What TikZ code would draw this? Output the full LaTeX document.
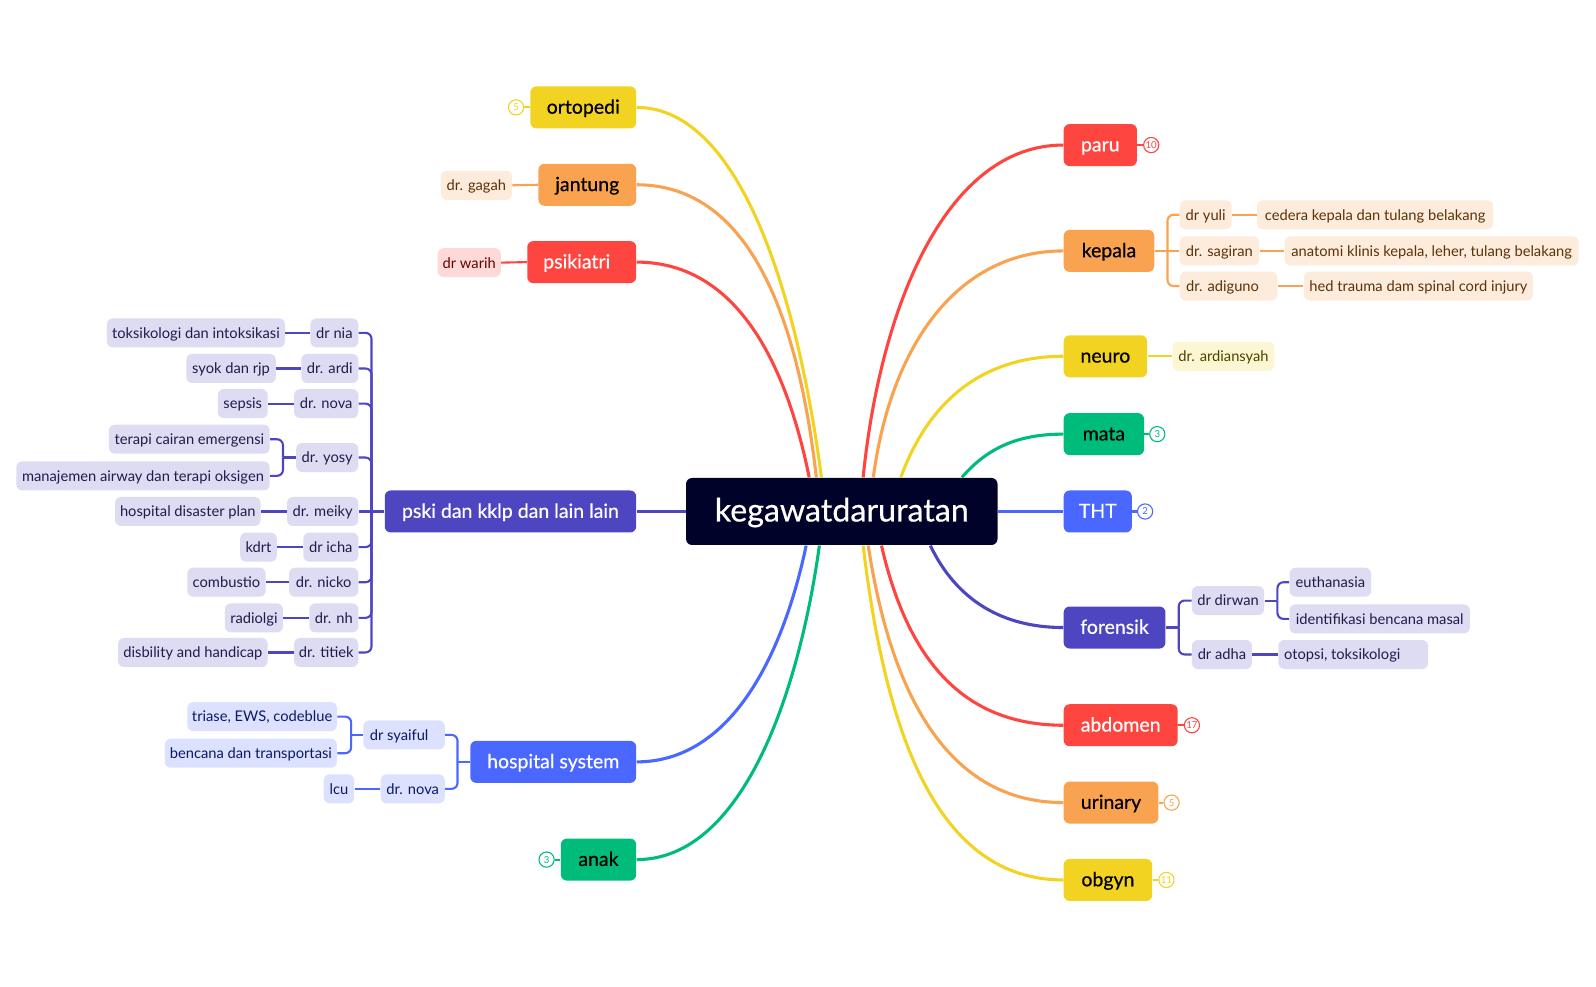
\documentclass[tikz,border=0pt]{standalone}
\usepackage{fontspec}
\setmainfont{Lato}
\newfontfamily\medfont[FakeBold=0.5]{Lato}
\definecolor{cRed}{HTML}{FF4540}
\definecolor{cOra}{HTML}{F9A24F}
\definecolor{cYel}{HTML}{F3D321}
\definecolor{cGre}{HTML}{00BC7B}
\definecolor{cBlu}{HTML}{4A67FF}
\definecolor{cInd}{HTML}{4E46C0}
\definecolor{cRoot}{HTML}{000229}
\definecolor{pRed}{HTML}{FFD9D8}
\definecolor{pOra}{HTML}{FDEBDC}
\definecolor{pYel}{HTML}{FCF6D2}
\definecolor{pBlu}{HTML}{DBE1FF}
\definecolor{pInd}{HTML}{DEDCF3}
\definecolor{tRed}{HTML}{660300}
\definecolor{tOra}{HTML}{5C3209}
\definecolor{tYel}{HTML}{4D4200}
\definecolor{tBlu}{HTML}{0A1A66}
\definecolor{tInd}{HTML}{1F1C4C}
\tikzset{
 box/.style={inner sep=0pt,rounded corners=3pt,align=center},
 rootbox/.style={box,fill=cRoot,text=white,minimum height=33.5pt,font=\medfont\fontsize{16.1}{18}\selectfont,text height=12pt,text depth=2pt},
 branch/.style={box,minimum height=21pt,font=\medfont\fontsize{9.75}{11}\selectfont,text height=8pt,text depth=1.7pt},
 leaf/.style={box,minimum height=14.5pt,font=\fontsize{7.35}{9}\selectfont,text height=6.2pt,text depth=.8pt},
 lRed/.style={leaf,fill=pRed,text=tRed},
 lOra/.style={leaf,fill=pOra,text=tOra},
 lYel/.style={leaf,fill=pYel,text=tYel},
 lBlu/.style={leaf,fill=pBlu,text=tBlu},
 lInd/.style={leaf,fill=pInd,text=tInd},
 badge/.style={circle,draw=#1,fill=white,text=#1,line width=.55pt,inner sep=0pt,minimum size=7.6pt,font=\fontsize{4.8}{5}\selectfont},
 curve/.style={draw=#1,line width=1.55pt},
 wire/.style={draw=#1,line width=1.05pt,rounded corners=3pt},
}
\newcommand\bx[6]{% style, name, xl, xr, yc, text
 \pgfmathsetmacro\cxx{(#3+#4)/2}\pgfmathsetmacro\www{(#4-#3)*0.509}
 \node[#1,minimum width=\www pt] (#2) at (\cxx,#5) {#6};}
\begin{document}
\begin{tikzpicture}[x=0.509pt,y=-0.509pt]
\useasboundingbox (0,0) rectangle (1568,969.6);
\fill[white] (0,0) rectangle (1568,969.6);
% root
\bx{rootbox}{root}{674}{980}{502.5}{kegawatdaruratan}
% branches right
\bx{branch,fill=cRed,text=white}{paru}{1045}{1117}{142.5}{paru}
\bx{branch,fill=cOra,text=black}{kepala}{1045}{1134}{246.5}{kepala}
\bx{branch,fill=cYel,text=black}{neuro}{1045}{1127}{350}{neuro}
\bx{branch,fill=cGre,text=black}{mata}{1045}{1124}{426.5}{mata}
\bx{branch,fill=cBlu,text=white}{tht}{1045}{1112}{502.5}{THT}
\bx{branch,fill=cInd,text=white}{forensik}{1045}{1145}{616.5}{forensik}
\bx{branch,fill=cRed,text=white}{abdomen}{1045}{1157}{712.5}{abdomen}
\bx{branch,fill=cOra,text=black}{urinary}{1045}{1138}{788.5}{urinary}
\bx{branch,fill=cYel,text=black}{obgyn}{1045}{1132}{864.5}{obgyn}
% branches left
\bx{branch,fill=cYel,text=black}{ortopedi}{521}{625}{105.5}{ortopedi}
\bx{branch,fill=cOra,text=black}{jantung}{529}{625}{181.5}{jantung}
\bx{branch,fill=cRed,text=white}{psikiatri}{518}{625}{257.5}{psikiatri\hspace{5pt}}
\bx{branch,fill=cInd,text=white}{pski}{378}{625}{502.5}{pski dan kklp dan lain lain}
\bx{branch,fill=cBlu,text=white}{hospital}{462}{625}{748.5}{hospital system}
\bx{branch,fill=cGre,text=black}{anak}{551}{625}{844.5}{anak}
% start points on the root
\coordinate (sParu) at (848,469); \coordinate (sKep) at (858,469);
\coordinate (sNeu) at (885,469); \coordinate (sMat) at (945,469);
\coordinate (sFor) at (914,536); \coordinate (sAbd) at (866,536);
\coordinate (sUri) at (853,536); \coordinate (sObg) at (848,536);
\coordinate (sOrt) at (807,469); \coordinate (sJan) at (802,469);
\coordinate (sPsi) at (795,469); \coordinate (sHos) at (792,536);
\coordinate (sAna) at (805,536);
\path[curve=cRed] (sParu) .. controls (865,300) and (930,142.5) .. (paru.west);
\path[curve=cOra] (sKep) .. controls (875,340) and (940,246.5) .. (kepala.west);
\path[curve=cYel] (sNeu) .. controls (910,400) and (960,350) .. (neuro.west);
\path[curve=cGre] (sMat) .. controls (970,440) and (1000,426.5) .. (mata.west);
\path[curve=cBlu] (root.east) -- (tht.west);
\path[curve=cInd] (sFor) .. controls (940,590) and (985,616.5) .. (forensik.west);
\path[curve=cYel] (sObg) .. controls (870,720) and (920,864.5) .. (obgyn.west);
\path[curve=cOra] (sUri) .. controls (875,680) and (930,788.5) .. (urinary.west);
\path[curve=cRed] (sAbd) .. controls (890,640) and (940,712.5) .. (abdomen.west);
\path[curve=cYel] (sOrt) .. controls (785,300) and (730,105.5) .. (ortopedi.east);
\path[curve=cOra] (sJan) .. controls (785,320) and (740,181.5) .. (jantung.east);
\path[curve=cRed] (sPsi) .. controls (775,370) and (730,257.5) .. (psikiatri.east);
\path[curve=cInd] (root.west) -- (pski.east);
\path[curve=cBlu] (sHos) .. controls (770,640) and (720,748.5) .. (hospital.east);
\path[curve=cGre] (sAna) .. controls (785,680) and (730,844.5) .. (anak.east);
% badges
\node[badge=cYel] (bOrt) at (507,105.5) {5};
\node[badge=cGre] (bAna) at (537,844.5) {3};
\node[badge=cRed] (bPar) at (1131,142.5) {10};
\node[badge=cGre] (bMat) at (1137,426.5) {3};
\node[badge=cBlu] (bTht) at (1125,502.5) {2};
\node[badge=cRed] (bAbd) at (1171,712.5) {17};
\node[badge=cOra] (bUri) at (1151,788.5) {5};
\node[badge=cYel] (bObg) at (1146,864.5) {11};
\path[wire=cYel] (ortopedi.west) -- (bOrt);
\path[wire=cGre] (anak.west) -- (bAna);
\path[wire=cRed] (paru.east) -- (bPar);
\path[wire=cGre] (mata.east) -- (bMat);
\path[wire=cBlu] (tht.east) -- (bTht);
\path[wire=cRed] (abdomen.east) -- (bAbd);
\path[wire=cOra] (urinary.east) -- (bUri);
\path[wire=cYel] (obgyn.east) -- (bObg);
% single leaves
\bx{lOra}{gagah}{433}{503}{182}{dr. gagah}
\bx{lRed}{warih}{430}{492}{258}{dr warih}
\bx{lYel}{ardian}{1152}{1252}{350}{dr. ardiansyah}
\path[wire=cOra] (jantung.west) -- (gagah.east);
\path[wire=cRed] (psikiatri.west) -- (warih.east);
\path[wire=cYel] (neuro.east) -- (ardian.west);
% kepala
\bx{lOra}{yuli}{1159}{1210}{211}{dr yuli}
\bx{lOra}{cedera}{1235}{1467}{211}{cedera kepala dan tulang belakang}
\bx{lOra}{sagiran}{1159}{1237}{246.5}{dr. sagiran}
\bx{lOra}{anatomi}{1262}{1551}{246.5}{anatomi klinis kepala, leher, tulang belakang}
\bx{lOra}{adiguno}{1159}{1255}{281}{dr. adiguno\hspace{6pt}}
\bx{lOra}{hed}{1281}{1506}{281}{hed trauma dam spinal cord injury}
\coordinate (kSpine) at (1147,246.5);
\path[wire=cOra] (kepala.east) -- (sagiran.west);
\path[wire=cOra] (kSpine) |- (yuli.west);
\path[wire=cOra] (kSpine) |- (adiguno.west);
\path[wire=cOra] (yuli.east) -- (cedera.west);
\path[wire=cOra] (sagiran.east) -- (anatomi.west);
\path[wire=cOra] (adiguno.east) -- (hed.west);
% forensik
\bx{lInd}{dirwan}{1171}{1242}{590}{dr dirwan}
\bx{lInd}{adha}{1171}{1230}{643}{dr adha}
\bx{lInd}{euth}{1267}{1347}{572}{euthanasia}
\bx{lInd}{ident}{1267}{1444}{608}{identifikasi bencana masal}
\bx{lInd}{otopsi}{1256}{1403}{643}{otopsi, toksikologi\hspace{11pt}}
\coordinate (fSpine) at (1158,616.5);
\coordinate (dSpine) at (1255,590);
\path[wire=cInd] (forensik.east) -- (fSpine);
\path[wire=cInd] (fSpine) |- (dirwan.west);
\path[wire=cInd] (fSpine) |- (adha.west);
\path[wire=cInd] (dirwan.east) -- (dSpine);
\path[wire=cInd] (dSpine) |- (euth.west);
\path[wire=cInd] (dSpine) |- (ident.west);
\path[wire=cInd] (adha.east) -- (otopsi.west);
% pski
\bx{lInd}{nia}{305}{352}{327}{dr nia}
\bx{lInd}{toks}{105}{280}{327}{toksikologi dan intoksikasi}
\bx{lInd}{ardi}{296}{352}{362}{dr. ardi}
\bx{lInd}{syok}{183}{271}{362}{syok dan rjp}
\bx{lInd}{novaa}{289}{352}{396.5}{dr. nova}
\bx{lInd}{sepsis}{214}{263}{396.5}{sepsis}
\bx{lInd}{yosy}{291}{352}{449.5}{dr. yosy}
\bx{lInd}{terapi}{107}{265}{431.5}{terapi cairan emergensi}
\bx{lInd}{manaj}{16}{265}{467.5}{manajemen airway dan terapi oksigen}
\bx{lInd}{meiky}{282}{352}{502.5}{dr. meiky}
\bx{lInd}{disas}{113}{256}{502.5}{hospital disaster plan}
\bx{lInd}{icha}{298}{352}{537.5}{dr icha}
\bx{lInd}{kdrt}{236}{272}{537.5}{kdrt}
\bx{lInd}{nicko}{284}{352}{572}{dr. nicko}
\bx{lInd}{comb}{184}{261}{572}{combustio}
\bx{lInd}{nh}{304}{352}{607}{dr. nh}
\bx{lInd}{radi}{221}{278}{607}{radiolgi}
\bx{lInd}{titiek}{289}{352}{641}{dr. titiek}
\bx{lInd}{disb}{116}{263}{641}{disbility and handicap}
\coordinate (pSpine) at (365,502.5);
\coordinate (ySpine) at (278,449.5);
\path[wire=cInd] (pski.west) -- (meiky.east);
\foreach \c in {nia,ardi,novaa,yosy,icha,nicko,nh,titiek}
  \path[wire=cInd] (pSpine) |- (\c.east);
\path[wire=cInd] (nia.west) -- (toks.east);
\path[wire=cInd] (ardi.west) -- (syok.east);
\path[wire=cInd] (novaa.west) -- (sepsis.east);
\path[wire=cInd] (yosy.west) -- (ySpine);
\path[wire=cInd] (ySpine) |- (terapi.east);
\path[wire=cInd] (ySpine) |- (manaj.east);
\path[wire=cInd] (meiky.west) -- (disas.east);
\path[wire=cInd] (icha.west) -- (kdrt.east);
\path[wire=cInd] (nicko.west) -- (comb.east);
\path[wire=cInd] (nh.west) -- (radi.east);
\path[wire=cInd] (titiek.west) -- (disb.east);
% hospital
\bx{lBlu}{syaiful}{357}{437}{722}{dr syaiful\hspace{5pt}}
\bx{lBlu}{triase}{184}{331}{704}{triase, EWS, codeblue}
\bx{lBlu}{bencana}{162}{331}{740}{bencana dan transportasi}
\bx{lBlu}{novab}{374}{437}{775}{dr. nova}
\bx{lBlu}{lcu}{318}{348}{775}{lcu}
\coordinate (hSpine) at (449.5,748.5);
\coordinate (sSpine) at (345,722);
\path[wire=cBlu] (hospital.west) -- (hSpine);
\path[wire=cBlu] (hSpine) |- (syaiful.east);
\path[wire=cBlu] (hSpine) |- (novab.east);
\path[wire=cBlu] (syaiful.west) -- (sSpine);
\path[wire=cBlu] (sSpine) |- (triase.east);
\path[wire=cBlu] (sSpine) |- (bencana.east);
\path[wire=cBlu] (novab.west) -- (lcu.east);
\end{tikzpicture}
\end{document}
